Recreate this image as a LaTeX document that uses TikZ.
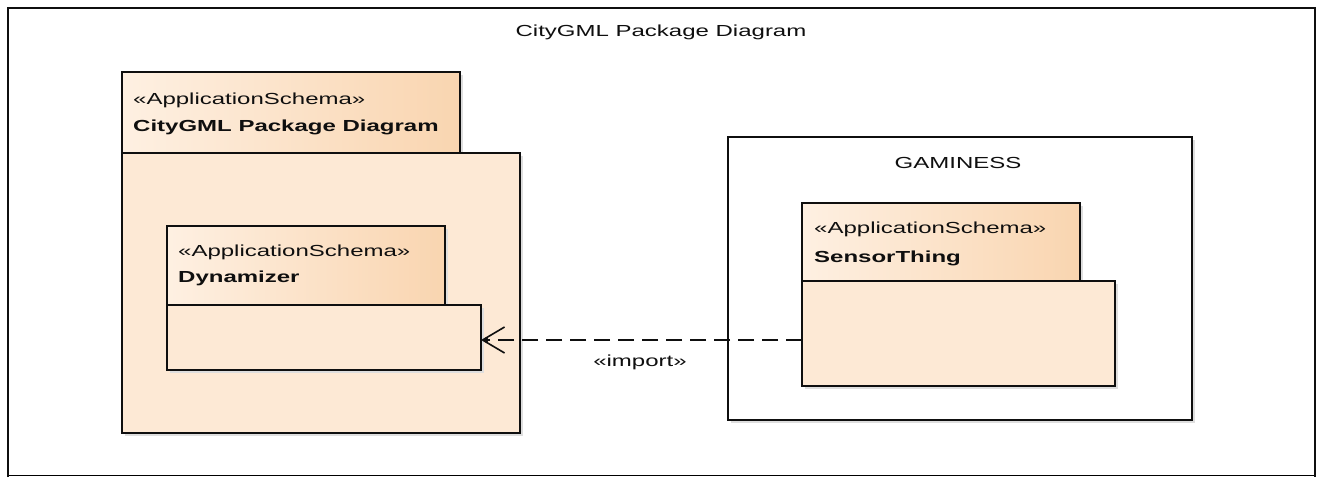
\documentclass[tikz,border=0pt]{standalone}
\usepackage{fontspec}
\newfontfamily\umlfont[FakeStretch=1.5]{Liberation Sans}
\usetikzlibrary{arrows.meta}
\definecolor{pkgbody}{RGB}{253,233,213}
\definecolor{tabL}{RGB}{254,240,226}
\definecolor{tabR}{RGB}{249,213,176}
\definecolor{edge}{RGB}{15,15,15}
\definecolor{shade}{RGB}{222,222,222}
\begin{document}
\begin{tikzpicture}[x=1pt,y=-1pt,
  font=\umlfont\fontsize{16}{20}\selectfont,
  box/.style={draw=edge, line width=2.5pt, inner sep=0pt, outer sep=0pt, anchor=north west},
  tabbox/.style={box, left color=tabL, right color=tabR},
  bodybox/.style={box, fill=pkgbody},
  plainbox/.style={box, fill=white},
  shadowbox/.style={fill=shade, inner sep=0pt, outer sep=0pt, anchor=north west},
  label/.style={anchor=base west, inner sep=0pt, text=edge},
  importline/.style={draw=edge, line width=2.5pt, dash pattern=on 16pt off 8pt,
    -{Straight Barb[length=22pt,width=26pt,line width=1.6pt]}}]
\useasboundingbox[fill=white] (0,0) rectangle (1317,477);
% frame
\draw[shade, line width=1pt] (8,475.5) -- (1315,475.5);
\draw[edge, line width=2.5pt] (8,477) -- (8,8) -- (1315,8) -- (1315,477);
\node[anchor=center, text=edge] (title) at (661,32) {CityGML Package Diagram};

% CityGML package
\node[shadowbox, minimum width=338pt, minimum height=81pt] at (125,75) {};
\node[tabbox, minimum width=338pt, minimum height=81pt] (cgTab) at (122,72) {};
\node[shadowbox, minimum width=398pt, minimum height=280pt] at (125,156) {};
\node[bodybox, minimum width=398pt, minimum height=280pt] (cgBody) at (122,153) {};
\node[label] (cgSt) at (133,104) {«ApplicationSchema»};
\node[label, font=\umlfont\bfseries\fontsize{16}{20}\selectfont] (cgName) at (133,131) {CityGML Package Diagram};

% Dynamizer package
\node[shadowbox, minimum width=278pt, minimum height=79pt] at (170,229) {};
\node[tabbox, minimum width=278pt, minimum height=79pt] (dynTab) at (167,226) {};
\node[shadowbox, minimum width=314pt, minimum height=65pt] at (170,308) {};
\node[bodybox, minimum width=314pt, minimum height=65pt] (dynBody) at (167,305) {};
\node[label] (dynSt) at (178,256) {«ApplicationSchema»};
\node[label, font=\umlfont\bfseries\fontsize{16}{20}\selectfont] (dynName) at (178,282) {Dynamizer};

% GAMINESS boundary
\node[shadowbox, minimum width=464pt, minimum height=283pt] at (731,140) {};
\node[plainbox, minimum width=464pt, minimum height=283pt] (gam) at (728,137) {};
\node[anchor=center, text=edge] (gamName) at (958,163) {GAMINESS};

% SensorThing package
\node[shadowbox, minimum width=278pt, minimum height=78pt] at (805,206) {};
\node[tabbox, minimum width=278pt, minimum height=78pt] (stTab) at (802,203) {};
\node[shadowbox, minimum width=313pt, minimum height=105pt] at (805,284) {};
\node[bodybox, minimum width=313pt, minimum height=105pt] (stBody) at (802,281) {};
\node[label] (stSt) at (814,233) {«ApplicationSchema»};
\node[label, font=\umlfont\bfseries\fontsize{16}{20}\selectfont] (stName) at (814,262) {SensorThing};

% import dependency
\coordinate (lev) at (0,340);
\draw[importline] (stBody.west |- lev) -- (dynBody.east |- lev);
\fill[edge] (dynBody.east |- lev) ++(5,0) circle (2.4pt);
\node[anchor=center, text=edge] (imp) at (640,362) {«import»};
\end{tikzpicture}
\end{document}
